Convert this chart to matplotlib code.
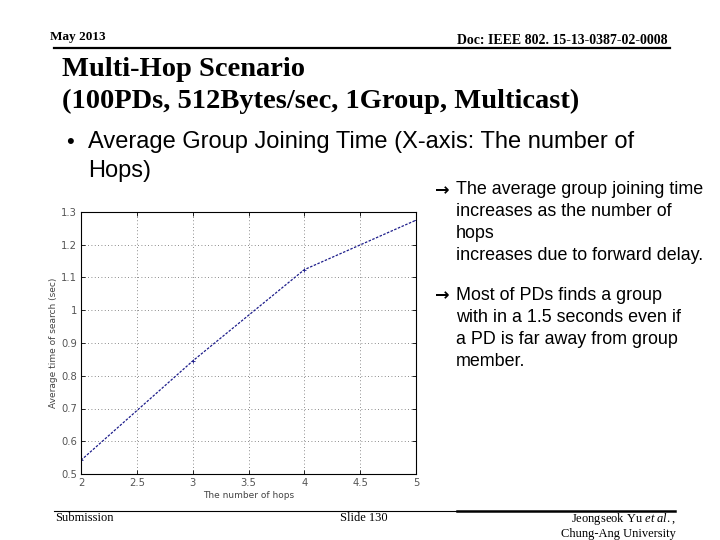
import matplotlib
matplotlib.use("Agg")
import matplotlib.pyplot as plt
from matplotlib.lines import Line2D

# ---- data ----
hops = [2, 3, 4, 5]
avg_time = [0.542, 0.845, 1.124, 1.275]
xticks = [2, 2.5, 3, 3.5, 4, 4.5, 5]
xtick_labels = ["2", "2.5", "3", "3.5", "4", "4.5", "5"]
yticks = [0.5, 0.6, 0.7, 0.8, 0.9, 1.0, 1.1, 1.2, 1.3]
ytick_labels = ["0.5", "0.6", "0.7", "0.8", "0.9", "1", "1.1", "1.2", "1.3"]

plt.rcParams["mathtext.fontset"] = "custom"
plt.rcParams["mathtext.rm"] = "Liberation Serif"
plt.rcParams["mathtext.it"] = "Liberation Serif:italic"

W, H = 720, 540
fig = plt.figure(figsize=(7.2, 5.4), dpi=100)
fig.patch.set_facecolor("white")

def px(x, y):
    return x / W, 1 - y / H

serif = ["Liberation Serif", "DejaVu Serif"]
sans = ["Liberation Sans", "DejaVu Sans"]

# header
fig.text(*px(50, 37), "May 2013", family=serif, fontweight="bold", fontsize=9.5, va="center", ha="left")
fig.text(*px(668, 41), "Doc: IEEE 802. 15-13-0387-02-0008", family=serif, fontweight="bold", fontsize=10, va="center", ha="right")
fig.add_artist(Line2D([54 / W, 670 / W], [1 - 48 / H, 1 - 48 / H], color="black", lw=1.6))

# title
fig.text(*px(62, 70), "Multi-Hop Scenario", family=serif, fontweight="bold", fontsize=20.5, va="center", ha="left")
fig.text(*px(62, 101), "(100PDs, 512Bytes/sec, 1Group, Multicast)", family=serif, fontweight="bold", fontsize=20.5, va="center", ha="left")

# bullet
fig.text(*px(66, 143), "\u2022", family=sans, fontsize=16, va="center", ha="left")
fig.text(*px(88, 142), "Average Group Joining Time (X-axis: The number of", family=sans, fontsize=17, va="center", ha="left")
fig.text(*px(88, 171), "Hops)", family=sans, fontsize=17, va="center", ha="left")

# right-hand comments
fs = 12.9
fig.text(*px(435, 190), "\u2192", family=["DejaVu Sans"], fontsize=12.5, fontweight="bold", va="center", ha="left")
lines1 = ["The average group joining time", "increases as the number of", "hops", "increases due to forward delay."]
ys1 = [190, 212, 234, 256]
for t, y in zip(lines1, ys1):
    fig.text(*px(456, y), t, family=sans, fontsize=fs, va="center", ha="left")
fig.text(*px(435, 295), "\u2192", family=["DejaVu Sans"], fontsize=12.5, fontweight="bold", va="center", ha="left")
lines2 = ["Most of PDs finds a group", "with in a 1.5 seconds even if", "a PD is far away from group", "member."]
ys2 = [295, 317, 339, 362]
for t, y in zip(lines2, ys2):
    fig.text(*px(456, y), t, family=sans, fontsize=fs, va="center", ha="left")

# footer
fig.add_artist(Line2D([54 / W, 457 / W], [1 - 511 / H, 1 - 511 / H], color="black", lw=0.8))
fig.add_artist(Line2D([457 / W, 675 / W], [1 - 511 / H, 1 - 511 / H], color="black", lw=1.8))
fig.text(*px(55, 518), "Submission", family=serif, fontsize=9, va="center", ha="left")
fig.text(*px(364, 518), "Slide 130", family=serif, fontsize=9, va="center", ha="center")
fig.text(*px(676, 519), "Jeongseok Yu $\\it{et\\ al.}$,", family=serif, fontsize=9, va="center", ha="right")
fig.text(*px(676, 534), "Chung-Ang University", family=serif, fontsize=9, va="center", ha="right")

# chart
left, right, top, bottom = 81, 416, 212, 474
ax = fig.add_axes([left / W, 1 - bottom / H, (right - left) / W, (bottom - top) / H])
ax.plot(hops, avg_time, color="#1c1c8a", lw=0.9, linestyle=(0, (2, 1.2)),
        marker="+", markersize=3, markeredgewidth=0.6)
ax.set_xlim(2, 5)
ax.set_ylim(0.5, 1.3)
ax.set_xticks(xticks)
ax.set_xticklabels(xtick_labels)
ax.set_yticks(yticks)
ax.set_yticklabels(ytick_labels)
ax.grid(True, color="black", linestyle=(0, (1, 3)), lw=0.6, alpha=0.6)
ax.tick_params(direction="in", length=3, width=0.6, labelsize=7.2, labelcolor="#555555",
               top=True, right=True, pad=3)
for s in ax.spines.values():
    s.set_linewidth(0.8)
ax.set_xlabel("The number of hops", fontsize=6.5, color="#444444", labelpad=2)
ax.set_ylabel("Average time of search (sec)", fontsize=6.5, color="#444444", labelpad=2)

fig.savefig("out.png", dpi=100)
